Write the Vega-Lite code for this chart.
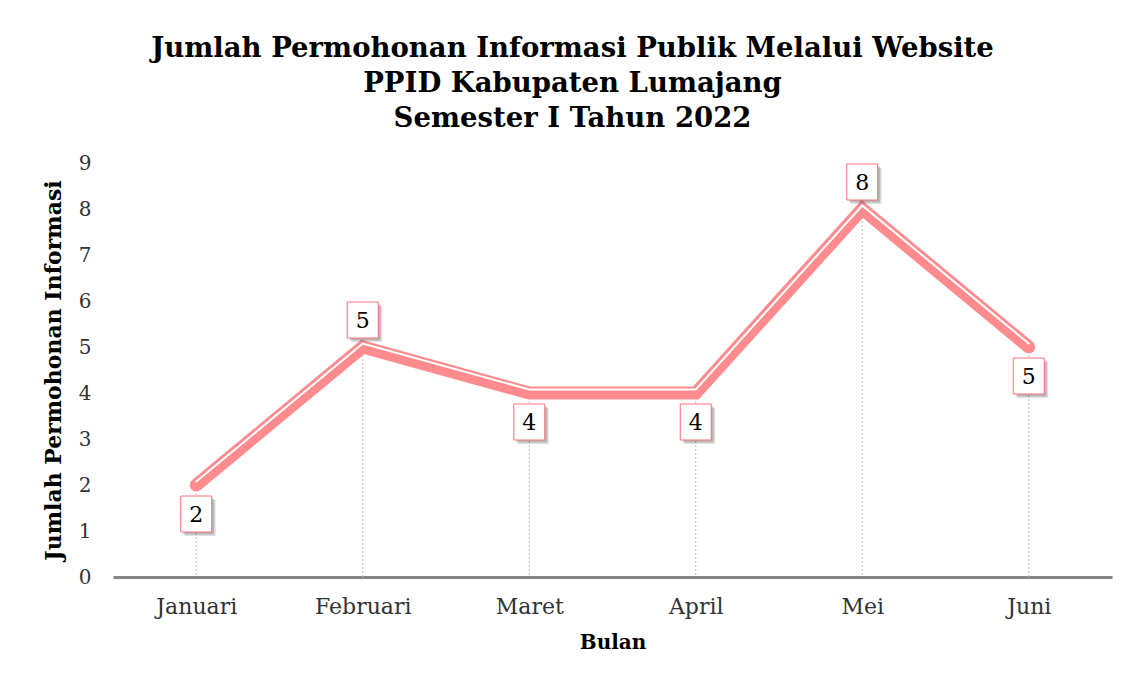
{
  "$schema": "https://vega.github.io/schema/vega-lite/v6.json",
  "width": 999,
  "height": 414,
  "autosize": {"type": "none"},
  "padding": {"left": 113, "top": 163, "right": 20, "bottom": 108},
  "background": "white",
  "title": {
    "text": ["Jumlah Permohonan Informasi Publik Melalui Website", "PPID Kabupaten Lumajang", "Semester I Tahun 2022"],
    "font": "DejaVu Serif",
    "fontSize": 27.5,
    "fontWeight": "bold",
    "color": "#000000",
    "anchor": "middle",
    "frame": "group",
    "dx": -40,
    "offset": 21,
    "lineHeight": 35
  },
  "config": {
    "view": {"stroke": null},
    "axis": {
      "labelFont": "DejaVu Serif",
      "titleFont": "DejaVu Serif",
      "labelColor": "#333333",
      "titleColor": "#000000",
      "grid": false,
      "ticks": false
    }
  },
  "data": {
    "values": [
      {"bulan": "Januari", "jumlah": 2},
      {"bulan": "Februari", "jumlah": 5},
      {"bulan": "Maret", "jumlah": 4},
      {"bulan": "April", "jumlah": 4},
      {"bulan": "Mei", "jumlah": 8},
      {"bulan": "Juni", "jumlah": 5}
    ]
  },
  "encoding": {
    "x": {
      "field": "bulan",
      "type": "ordinal",
      "sort": null,
      "scale": {"type": "point", "padding": 0.5},
      "axis": {
        "title": "Bulan",
        "labelAngle": 0,
        "labelFontSize": 22,
        "labelPadding": 19,
        "titleFontSize": 20,
        "titleFontWeight": "bold",
        "titlePadding": 15,
        "domain": true,
        "domainColor": "#868686",
        "domainWidth": 3
      }
    },
    "y": {
      "field": "jumlah",
      "type": "quantitative",
      "scale": {"domain": [0, 9], "nice": false},
      "axis": {
        "title": "Jumlah Permohonan Informasi",
        "values": [0, 1, 2, 3, 4, 5, 6, 7, 8, 9],
        "labelFontSize": 20,
        "labelPadding": 22,
        "titleFontSize": 22,
        "titleFontWeight": "bold",
        "titlePadding": 13,
        "domain": false
      }
    }
  },
  "layer": [
    {
      "mark": {"type": "rule", "color": "#BFBFBF", "strokeWidth": 1, "strokeDash": [2, 2]},
      "encoding": {"y2": {"datum": 0}}
    },
    {
      "mark": {"type": "line", "color": "#FF8B8F", "strokeWidth": 13, "strokeCap": "round", "strokeJoin": "miter"}
    },
    {
      "mark": {"type": "line", "color": "#FFFFFF", "strokeWidth": 2, "strokeCap": "round", "strokeJoin": "miter", "yOffset": -3.5}
    },
    {
      "transform": [{"filter": "datum.bulan === 'Februari' || datum.bulan === 'Mei'"}],
      "layer": [
        {"mark": {"type": "point", "shape": "M-0.86,-1H0.86V1H-0.86Z", "size": 1296, "filled": true, "color": "#000000", "opacity": 0.12, "xOffset": 4, "yOffset": -23}},
        {"mark": {"type": "point", "shape": "M-0.86,-1H0.86V1H-0.86Z", "size": 1296, "filled": true, "color": "#000000", "opacity": 0.18, "xOffset": 2.5, "yOffset": -24.5}},
        {"mark": {"type": "point", "shape": "M-0.86,-1H0.86V1H-0.86Z", "size": 1296, "filled": true, "fill": "#FFFFFF", "stroke": "#FF7077", "strokeWidth": 1, "opacity": 1, "yOffset": -27}},
        {"mark": {"type": "text", "font": "DejaVu Serif", "fontSize": 22, "color": "#000000", "yOffset": -26, "baseline": "middle"}, "encoding": {"text": {"field": "jumlah"}}}
      ]
    },
    {
      "transform": [{"filter": "datum.bulan !== 'Februari' && datum.bulan !== 'Mei'"}],
      "layer": [
        {"mark": {"type": "point", "shape": "M-0.86,-1H0.86V1H-0.86Z", "size": 1296, "filled": true, "color": "#000000", "opacity": 0.12, "xOffset": 4, "yOffset": 33}},
        {"mark": {"type": "point", "shape": "M-0.86,-1H0.86V1H-0.86Z", "size": 1296, "filled": true, "color": "#000000", "opacity": 0.18, "xOffset": 2.5, "yOffset": 31.5}},
        {"mark": {"type": "point", "shape": "M-0.86,-1H0.86V1H-0.86Z", "size": 1296, "filled": true, "fill": "#FFFFFF", "stroke": "#FF7077", "strokeWidth": 1, "opacity": 1, "yOffset": 29}},
        {"mark": {"type": "text", "font": "DejaVu Serif", "fontSize": 22, "color": "#000000", "yOffset": 30, "baseline": "middle"}, "encoding": {"text": {"field": "jumlah"}}}
      ]
    }
  ]
}
